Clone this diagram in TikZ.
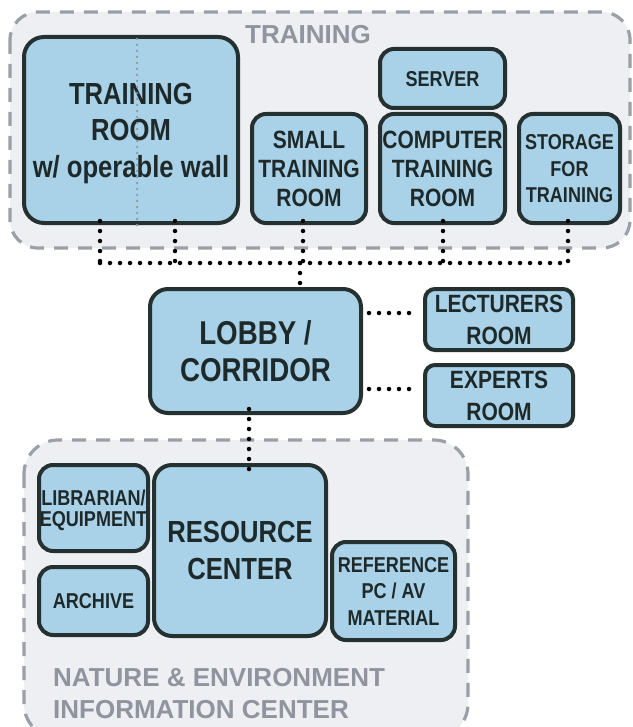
\documentclass[tikz,border=0pt]{standalone}
\usepackage{fontspec}
\setmainfont{Liberation Sans}
\newfontfamily\roomfont{Liberation Sans}[FakeStretch=0.84]
\definecolor{roomfill}{HTML}{A9D1E8}
\definecolor{roomline}{HTML}{243130}
\definecolor{roomtext}{HTML}{1E2A2A}
\definecolor{grpfill}{HTML}{EDEFF2}
\definecolor{grpline}{HTML}{9B9FA8}
\definecolor{grptext}{HTML}{8F949E}
\definecolor{wallcol}{HTML}{8797A6}
\tikzset{
  room/.style={draw=roomline, fill=roomfill, line width=4pt, rounded corners=14pt,
    inner sep=0pt, align=center, text=roomtext, text depth=0pt},
  grp/.style={draw=grpline, fill=grpfill, line width=3.2pt, dash pattern=on 14pt off 10pt},
  link/.style={line width=4.5pt, line cap=round, dash pattern=on 0pt off 10pt, draw=black},
  f30/.style={font=\roomfont\bfseries\fontsize{30.5}{36.5}\selectfont},
  f33/.style={font=\roomfont\bfseries\fontsize{33}{37}\selectfont},
  f25/.style={font=\roomfont\bfseries\fontsize{25}{29}\selectfont},
  f25w/.style={font=\roomfont\bfseries\fontsize{25}{32}\selectfont},
  f21/.style={font=\roomfont\bfseries\fontsize{21.5}{26.5}\selectfont},
  f21t/.style={font=\roomfont\bfseries\fontsize{21.5}{21}\selectfont},
  grplabel/.style={font=\bfseries\fontsize{26}{32}\selectfont, text=grptext, inner sep=0pt, align=left}
}
\begin{document}
\begin{tikzpicture}[x=1pt,y=-1pt]
\useasboundingbox (0,0) rectangle (632,727);
\fill[white] (0,0) rectangle (632,727);
% groups
\draw[grp, rounded corners=28pt] (10,12) rectangle (630,248);
\draw[grp, rounded corners=34pt] (24,440) rectangle (468,738);
\node[grplabel, anchor=center] (tlabel) at (308,35) {TRAINING};
\node[grplabel, anchor=west] (nlabel) at (53,694) {NATURE \& ENVIRONMENT\\INFORMATION CENTER};
% training rooms
\node[room, f30, minimum width=214pt, minimum height=186pt, rounded corners=20pt] (trainroom) at (131,130) {TRAINING\\ROOM\\w/ operable wall};
\node[room, f25, minimum width=114pt, minimum height=109pt] (small) at (309,168.5) {SMALL\\TRAINING\\ROOM};
\node[room, f21, minimum width=125pt, minimum height=59pt] (server) at (442.5,78.5) {SERVER};
\node[room, f25, minimum width=125pt, minimum height=109pt] (computer) at (442.5,168.5) {COMPUTER\\TRAINING\\ROOM};
\node[room, f21, minimum width=101pt, minimum height=109pt] (storage) at (569.5,168.5) {STORAGE\\FOR\\TRAINING};
% operable wall
\coordinate (wallx) at (137,0);
\draw[wallcol, line width=2.5pt, line cap=round, dash pattern=on 0pt off 6pt] (trainroom.north -| wallx) ++(0,4) -- ([yshift=-4pt]trainroom.south -| wallx);
% lobby
\node[room, f33, minimum width=211pt, minimum height=124pt, rounded corners=18pt] (lobby) at (255.5,351) {LOBBY /\\CORRIDOR};
\node[room, f25w, minimum width=148pt, minimum height=61pt, rounded corners=10pt] (lecturers) at (499,319.5) {LECTURERS\\ROOM};
\node[room, f25w, minimum width=148pt, minimum height=61pt, rounded corners=10pt] (experts) at (499,395.5) {EXPERTS\\ROOM};
% resource center
\node[room, f21t, minimum width=109pt, minimum height=86pt] (librarian) at (93.5,508) {LIBRARIAN/\\EQUIPMENT};
\node[room, f21, minimum width=109pt, minimum height=68pt] (archive) at (93.5,601) {ARCHIVE};
\node[room, f30, minimum width=172pt, minimum height=171pt, rounded corners=18pt] (resource) at (240,550.5) {RESOURCE\\CENTER};
\node[room, f21, minimum width=123pt, minimum height=98pt] (reference) at (393.5,591) {REFERENCE\\PC / AV\\MATERIAL};
% connectors
\coordinate (b1) at (100,263);
\coordinate (b2) at (175,263);
\coordinate (b3) at (303,263);
\coordinate (bm) at (300,263);
\coordinate (b4) at (443,263);
\coordinate (b5) at (568,263);
\draw[link] (b1) -- (b5);
\draw[link] ([yshift=4pt]trainroom.south -| b1) -- (b1);
\draw[link] ([yshift=4pt]trainroom.south -| b2) -- (b2);
\draw[link] ([yshift=4pt]small.south -| b3) -- (b3);
\draw[link] ([yshift=4pt]computer.south -| b4) -- (b4);
\draw[link] ([yshift=4pt]storage.south -| b5) -- (b5);
\draw[link] (bm) -- ([yshift=-4pt]lobby.north -| bm);
\coordinate (c1) at (0,313);
\coordinate (c2) at (0,389);
\draw[link] ([xshift=6pt]lobby.east |- c1) -- ([xshift=-4pt]lecturers.west |- c1);
\draw[link] ([xshift=6pt]lobby.east |- c2) -- ([xshift=-4pt]experts.west |- c2);
\coordinate (c3) at (249,0);
\draw[link] ([yshift=6pt]lobby.south -| c3) -- ([yshift=-6pt]resource.north -| c3);
\end{tikzpicture}
\end{document}
